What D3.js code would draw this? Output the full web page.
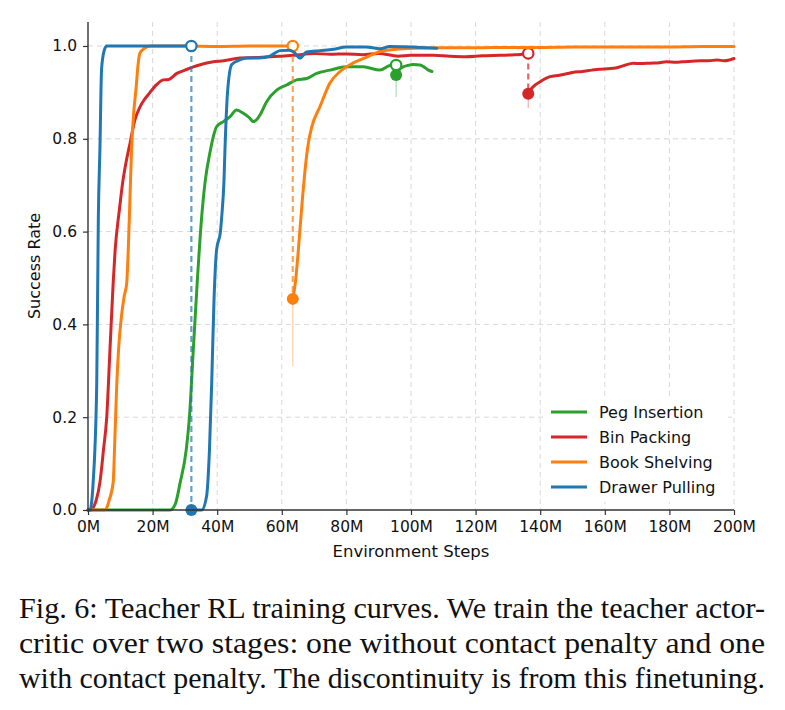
<!DOCTYPE html>
<html>
<head>
<meta charset="utf-8">
<script src="https://cdn.jsdelivr.net/npm/d3@7"></script>
<style>
  html, body { margin: 0; padding: 0; background: #fff; }
  svg { display: block; }
  .tick text { font-family: "DejaVu Sans", sans-serif; }
  .caption { font-family: "Liberation Serif", "Times New Roman", Times, serif; }
  .sans { font-family: "DejaVu Sans", sans-serif; }
</style>
</head>
<body>
<svg id="chart" width="785" height="710"></svg>
<script>
// ---------- data (x in millions of environment steps, y = success rate) ----------
const seriesNames = ["Peg Insertion", "Bin Packing", "Book Shelving", "Drawer Pulling"];
const seriesColors = ["#2ca02c", "#d62728", "#ff7f0e", "#1f77b4"];

const pegStage1 = [[0,0],[25.4,0],[27,0.012],[28.5,0.058],[30.4,0.129],[31.4,0.2],[32.6,0.345],[33.8,0.489],[35.2,0.632],[36.2,0.704],[37.8,0.772],[39,0.81],[39.8,0.826],[41.9,0.837],[44,0.848],[46,0.862],[48.1,0.855],[50,0.845],[51.2,0.837],[52.2,0.841],[53.3,0.852],[55.3,0.88],[58.4,0.905],[61.5,0.916],[64.6,0.927],[67.7,0.93],[70.8,0.941],[74.9,0.948],[80,0.955],[85.2,0.955],[90.4,0.948],[93.5,0.958],[95.4,0.959]];
const pegStage2 = [[95.4,0.9375],[96.5,0.95],[97.6,0.955],[99,0.958],[100.7,0.96],[102.8,0.959],[104,0.955],[105.4,0.948],[106.5,0.945]];

const binStage1 = [[0,0],[1,0],[1.6,0.005],[2.5,0.02],[3.7,0.06],[4.8,0.13],[5.8,0.2],[6.8,0.345],[7.8,0.49],[8.4,0.56],[9.7,0.646],[10.7,0.704],[11.8,0.75],[13,0.79],[14.5,0.84],[16.1,0.869],[17.5,0.885],[19.2,0.9],[21,0.915],[23.3,0.927],[25,0.928],[27.5,0.941],[30,0.948],[32.6,0.955],[35,0.96],[38.8,0.966],[42,0.968],[47,0.974],[52,0.975],[59,0.978],[64,0.98],[69.7,0.984],[75,0.982],[80,0.983],[85,0.981],[90,0.984],[96,0.978],[100,0.98],[106.9,0.98],[112,0.978],[117,0.977],[122,0.979],[127.6,0.98],[132,0.981],[136.3,0.984]];
const binStage2 = [[136.3,0.897],[137.5,0.91],[140,0.923],[143,0.934],[146,0.937],[148.2,0.94],[150,0.943],[153,0.945],[156,0.948],[158.5,0.95],[161,0.951],[163.7,0.953],[166,0.958],[168.8,0.963],[171,0.962],[174,0.963],[177,0.964],[179,0.966],[182,0.965],[184,0.966],[187,0.967],[189.6,0.968],[192,0.968],[194.8,0.97],[197,0.968],[200,0.973]];

const bookStage1 = [[0,0],[5,0],[5.8,0.005],[6.5,0.02],[7.8,0.06],[8.3,0.15],[8.9,0.27],[9.5,0.35],[10.4,0.42],[11.2,0.46],[12,0.49],[12.8,0.63],[13.5,0.78],[14.2,0.86],[14.9,0.91],[15.5,0.96],[16.1,0.985],[17.5,0.995],[19.2,1.0],[30,1.0],[40,0.999],[50,1.0],[63.4,1.0]];
const bookStage2 = [[63.4,0.455],[64.2,0.49],[65,0.55],[65.8,0.62],[66.5,0.68],[67.2,0.733],[68.2,0.79],[69.3,0.826],[71.8,0.869],[74.9,0.92],[78,0.945],[82,0.963],[86.3,0.976],[90.4,0.988],[95.4,0.993],[100.7,0.995],[110,0.996],[120,0.996],[130,0.997],[140,0.997],[150,0.998],[160,0.998],[170,0.998],[180,0.998],[190,0.999],[200,0.999]];

const drawerStage1 = [[0,0],[0.6,0],[1.6,0.06],[2.7,0.27],[3.2,0.63],[3.7,0.78],[4.2,0.95],[5,0.99],[5.8,1.0],[10,1.0],[20,1.0],[32,1.0]];
const drawerStage2 = [[32,0],[35.2,0],[36.7,0.029],[37.6,0.129],[38.3,0.274],[39,0.45],[39.8,0.56],[41,0.6],[41.4,0.632],[42.1,0.71],[42.4,0.776],[43.2,0.9],[44.5,0.96],[47,0.97],[49,0.974],[53,0.974],[56.3,0.978],[59.4,0.99],[62.5,0.991],[64,0.985],[65.6,0.974],[67.7,0.987],[71.8,0.99],[76,0.993],[80,0.998],[86,0.998],[90.4,0.994],[93.5,0.999],[100.7,0.998],[105,0.996],[108,0.995]];

// raw (unsmoothed) first value after each switch, lowest visible excursion
const rawDips = [[95.4, 0.89], [136.3, 0.866], [63.4, 0.31], [32, 0]];

const xTicks = [0,20,40,60,80,100,120,140,160,180,200];
const yTicks = [0,0.2,0.4,0.6,0.8,1.0];
const xLabel = "Environment Steps";
const yLabel = "Success Rate";
const captionLines = [
  "Fig. 6: Teacher RL training curves. We train the teacher actor-",
  "critic over two stages: one without contact penalty and one",
  "with contact penalty. The discontinuity is from this finetuning."
];

const stages = [
  [pegStage1, pegStage2],
  [binStage1, binStage2],
  [bookStage1, bookStage2],
  [drawerStage1, drawerStage2]
];

// ---------- layout ----------
const svg = d3.select("#chart");
const L = 88, R = 734, T = 22, B = 510;
const x = d3.scaleLinear().domain([0, 200]).range([L, R]);
const y = d3.scaleLinear().domain([0, 1.0517]).range([B, T]);

// grid
const grid = svg.append("g");
grid.selectAll("line.gx").data(xTicks.slice(1)).join("line")
  .attr("x1", d => x(d)).attr("x2", d => x(d)).attr("y1", T).attr("y2", B)
  .attr("stroke", "#c8c8c8").attr("stroke-opacity", 0.7).attr("stroke-width", 1).attr("stroke-dasharray", "5,4");
grid.selectAll("line.gy").data(yTicks.slice(1)).join("line")
  .attr("x1", L).attr("x2", R).attr("y1", d => y(d)).attr("y2", d => y(d))
  .attr("stroke", "#c8c8c8").attr("stroke-opacity", 0.7).attr("stroke-width", 1).attr("stroke-dasharray", "5,4");

const line = d3.line().x(d => x(d[0])).y(d => y(d[1])).curve(d3.curveMonotoneX);

// raw dips (faint)
const plot = svg.append("g");
rawDips.forEach((d, i) => {
  const s = stages[i][1][0];
  plot.append("line")
    .attr("x1", x(d[0])).attr("x2", x(d[0])).attr("y1", y(s[1])).attr("y2", y(d[1]))
    .attr("stroke", seriesColors[i]).attr("stroke-opacity", 0.3).attr("stroke-width", 1.5);
});

stages.forEach((st, i) => {
  const c = seriesColors[i];
  st.forEach(data => {
    plot.append("path").datum(data)
      .attr("d", line).attr("fill", "none")
      .attr("stroke", c).attr("stroke-width", 3).attr("stroke-linejoin", "round").attr("stroke-linecap", "round");
  });
  const end1 = st[0][st[0].length - 1];
  const start2 = st[1][0];
  plot.append("line")
    .attr("x1", x(end1[0])).attr("x2", x(start2[0])).attr("y1", y(end1[1])).attr("y2", y(start2[1]))
    .attr("stroke", c).attr("stroke-opacity", 0.7).attr("stroke-width", 2.2).attr("stroke-dasharray", "6,4");
  plot.append("circle").attr("cx", x(start2[0])).attr("cy", y(start2[1])).attr("r", 6).attr("fill", c);
  plot.append("circle").attr("cx", x(end1[0])).attr("cy", y(end1[1])).attr("r", 5.2)
    .attr("fill", "#fff").attr("stroke", c).attr("stroke-width", 2.2);
});

// axes
const fmtY = d3.format(".1f");
const ax = svg.append("g").attr("transform", `translate(0,${B})`)
  .call(d3.axisBottom(x).tickValues(xTicks).tickFormat(d => d + "M").tickSize(5).tickPadding(6));
const ay = svg.append("g").attr("transform", `translate(${L},0)`)
  .call(d3.axisLeft(y).tickValues(yTicks).tickFormat(fmtY).tickSize(5).tickPadding(6));
[ax, ay].forEach(g => {
  g.select(".domain").attr("stroke", "#333").attr("stroke-width", 1.4);
  g.selectAll(".tick line").attr("stroke", "#333").attr("stroke-width", 1.2);
  g.selectAll(".tick text").attr("font-size", 15.5).attr("fill", "#111");
});
ay.select(".domain").attr("d", `M-0,${B}V${T}`);
ax.select(".domain").attr("d", `M${L},0H${R}`);

svg.append("text").attr("class", "sans").attr("x", (L + R) / 2).attr("y", 557).attr("text-anchor", "middle")
  .attr("font-size", 16.5).attr("fill", "#111").text(xLabel);
svg.append("text").attr("class", "sans").attr("transform", `translate(40,${(T + B) / 2}) rotate(-90)`).attr("text-anchor", "middle")
  .attr("font-size", 16).attr("fill", "#111").text(yLabel);

// legend
const lg = svg.append("g");
lg.append("rect").attr("x", 543).attr("y", 398).attr("width", 185).attr("height", 104).attr("fill", "#fff").attr("fill-opacity", 0.9);
seriesNames.forEach((n, i) => {
  const yy = 412 + i * 25;
  lg.append("line").attr("x1", 551).attr("x2", 587).attr("y1", yy).attr("y2", yy)
    .attr("stroke", seriesColors[i]).attr("stroke-width", 3);
  lg.append("text").attr("class", "sans").attr("x", 599).attr("y", yy).attr("dy", "0.35em")
    .attr("font-size", 16).attr("fill", "#111").text(n);
});

// caption
captionLines.forEach((t, i) => {
  svg.append("text").attr("class", "caption").attr("x", 19).attr("y", 618 + i * 35)
    .attr("font-size", 30)
    .attr("fill", "#111").attr("textLength", 746).attr("lengthAdjust", "spacingAndGlyphs").text(t);
});
</script>
</body>
</html>
